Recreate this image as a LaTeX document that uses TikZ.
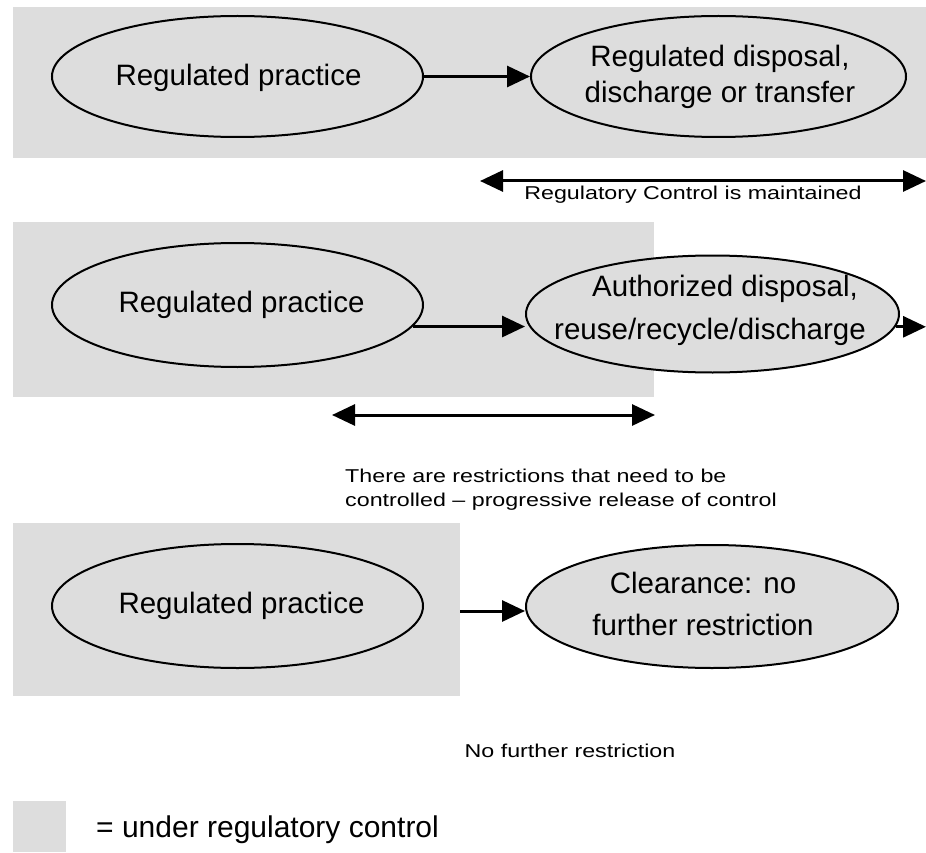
\documentclass[tikz,border=0pt]{standalone}
\usepackage{fontspec}
\setmainfont{Liberation Sans}
\newfontfamily\smallfnt[FakeStretch=1.25,Ligatures=TeX]{Liberation Sans}
\usetikzlibrary{shapes.geometric,arrows.meta}
\definecolor{regGray}{RGB}{221,221,221}
\begin{document}
\begin{tikzpicture}[x=1pt,y=-1pt,
  zone/.style={fill=regGray, draw=none},
  oval/.style={ellipse, draw=black, line width=2pt, fill=regGray, inner sep=0pt},
  ovaltext/.style={font=\fontsize{29.5}{36}\selectfont, align=center, inner sep=0pt},
  arr/.style={line width=3pt, -{Triangle[length=23pt,width=21pt]}},
  darr/.style={line width=3pt, {Triangle[length=23pt,width=21pt]}-{Triangle[length=23pt,width=21pt]}},
  note/.style={font=\smallfnt\fontsize{18.6}{24}\selectfont, inner sep=0pt},
  legendtext/.style={font=\fontsize{30}{36}\selectfont, inner sep=0pt}
]
\useasboundingbox (0,0) rectangle (926,853);
\fill[white] (0,0) rectangle (926,853);

% grey zones
\fill[zone] (13,7) rectangle (926,158);
\fill[zone] (13,222) rectangle (654,397);
\fill[zone] (13,523) rectangle (460,696);
\fill[zone] (13,801) rectangle (66,852);

% row 1
\node[oval, minimum width=371pt, minimum height=121pt] (e1l) at (237.5,76.5) {};
\node[oval, minimum width=375pt, minimum height=121pt] (e1r) at (718.5,76.5) {};
\node[ovaltext, anchor=base] (t1l) at (238.5,86) {Regulated practice};
\node[ovaltext, anchor=north] (t1r) at (720,44.5) {Regulated disposal,\\discharge or transfer};
\draw[arr] (e1l.east) -- (e1r.west);

\coordinate (d1a) at (480,181);
\coordinate (d1b) at (926,181);
\draw[darr] (d1a) -- (d1b);
\node[note, anchor=base] (n1) at (693,200) {Regulatory Control is maintained};

% row 2
\node[oval, minimum width=371pt, minimum height=124pt] (e2l) at (237.5,305) {};
\node[oval, minimum width=373pt, minimum height=117pt] (e2r) at (712.5,314) {};
\node[ovaltext, anchor=base] (t2l) at (241.5,312) {Regulated practice};
\node[ovaltext, anchor=north, font=\fontsize{29.5}{43}\selectfont] (t2r) at (710,275) {\hspace*{30pt}Authorized disposal,\\reuse/recycle/discharge};
\draw[arr] (e2l.-7.6) -- (e2l.-7.6 -| e2r.west);
\coordinate (r2end) at (926,327);
\draw[arr] (e2r.-4) -- (e2r.-4 -| r2end);

\coordinate (d2a) at (332,415);
\coordinate (d2b) at (655,415);
\draw[darr] (d2a) -- (d2b);
\node[note, anchor=base west] (n2a) at (345,482) {There are restrictions that need to be};
\node[note, anchor=base west] (n2b) at (345,506) {controlled – progressive release of control};

% row 3
\node[oval, minimum width=371pt, minimum height=124pt] (e3l) at (237.5,606) {};
\node[oval, minimum width=372pt, minimum height=123pt] (e3r) at (712,606.5) {};
\node[ovaltext, anchor=base] (t3l) at (241.5,613) {Regulated practice};
\node[ovaltext, anchor=north, font=\fontsize{29.5}{42}\selectfont] (t3r) at (703,571.5) {Clearance: no\\further restriction};
\coordinate (a3s) at (460,611);
\draw[arr] (a3s) -- (a3s -| e3r.west);

\node[note, anchor=base] (n3) at (570,757) {No further restriction};

% legend
\node[legendtext, anchor=base west] (leg) at (96,837) {= under regulatory control};
\end{tikzpicture}
\end{document}
